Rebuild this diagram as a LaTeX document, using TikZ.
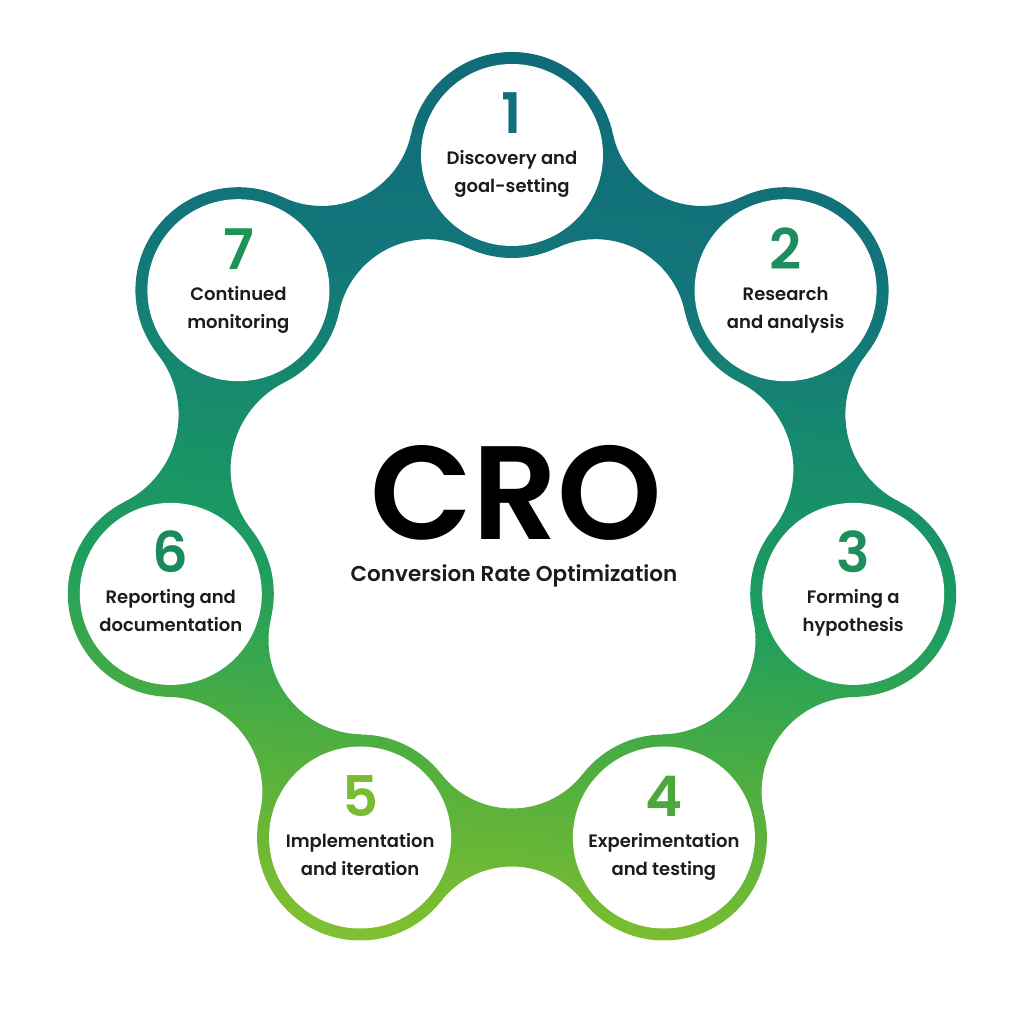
\documentclass[tikz,border=0pt]{standalone}
\usepackage{fontspec}
\setmainfont{Poppins}
\newfontfamily\medf{Poppins Medium}
\newfontfamily\semf{Poppins SemiBold}
\definecolor{g0}{HTML}{8CC63A}
\definecolor{g1}{HTML}{7CBD30}
\definecolor{g2}{HTML}{4EAE40}
\definecolor{g3}{HTML}{1E9E5E}
\definecolor{g4}{HTML}{178C6C}
\definecolor{g5}{HTML}{13777A}
\definecolor{g6}{HTML}{0E6878}
\definecolor{labeltext}{HTML}{1C1C1C}
\definecolor{d1}{HTML}{12707A}
\definecolor{d2}{HTML}{1E8E62}
\definecolor{d3}{HTML}{1E8E5C}
\definecolor{d4}{HTML}{4DA73A}
\definecolor{d5}{HTML}{78BC33}
\definecolor{d6}{HTML}{198A5B}
\definecolor{d7}{HTML}{1C9455}
\pgfdeclareverticalshading{cro}{100bp}{color(0bp)=(g0); color(25bp)=(g0); color(30bp)=(g1); color(38bp)=(g2); color(46bp)=(g3); color(54bp)=(g4); color(61bp)=(g5); color(75bp)=(g6); color(100bp)=(g6)}
\tikzset{
  lbl/.style={font=\semf\fontsize{18}{22}\selectfont, text=labeltext, anchor=base, inner sep=0pt},
  num/.style={font=\semf\fontsize{56}{60}\selectfont, anchor=base, inner sep=0pt},
  bandfill/.style={shading=cro, shading angle=-6}
}
\begin{document}
\begin{tikzpicture}[x=10pt,y=10pt]
\useasboundingbox (0,0) rectangle (102.4,102.4);
\fill[white] (0,0) rectangle (102.4,102.4);
\def\ro{10.3}\def\rw{9.1}\def\tn{2.9}
% necks between neighbouring circles
\foreach \ax/\ay/\bx/\by in {51.2/86.9/78.56/73.38, 78.56/73.38/85.32/43.01, 85.32/43.01/66.39/18.65, 66.39/18.65/36.01/18.65, 36.01/18.65/17.08/43.01, 17.08/43.01/23.84/73.38, 23.84/73.38/51.2/86.9}{
  \pgfmathsetmacro\dx{(\bx)-(\ax)}
  \pgfmathsetmacro\dy{(\by)-(\ay)}
  \pgfmathsetmacro\dd{veclen(\dx,\dy)}
  \pgfmathsetmacro\f{((\dd/2)^2+(\tn)^2-(\ro)^2)/(2*((\ro)-(\tn)))}
  \pgfmathsetmacro\h{(\f)+(\tn)}
  \pgfmathsetmacro\mx{((\ax)+(\bx))/2}
  \pgfmathsetmacro\my{((\ay)+(\by))/2}
  \pgfmathsetmacro\nx{-(\dy)/(\dd)}
  \pgfmathsetmacro\ny{(\dx)/(\dd)}
  \pgfmathsetmacro\pxa{(\mx)+(\h)*(\nx)}
  \pgfmathsetmacro\pya{(\my)+(\h)*(\ny)}
  \pgfmathsetmacro\pxb{(\mx)-(\h)*(\nx)}
  \pgfmathsetmacro\pyb{(\my)-(\h)*(\ny)}
  \pgfmathsetmacro\sA{atan2((\ay)-(\pya),(\ax)-(\pxa))}
  \pgfmathsetmacro\eA{atan2((\by)-(\pya),(\bx)-(\pxa))}
  \pgfmathsetmacro\dA{mod((\eA)-(\sA)+540,360)-180}
  \pgfmathsetmacro\sB{atan2((\by)-(\pyb),(\bx)-(\pxb))}
  \pgfmathsetmacro\eB{atan2((\ay)-(\pyb),(\ax)-(\pxb))}
  \pgfmathsetmacro\dB{mod((\eB)-(\sB)+540,360)-180}
  \pgfmathsetmacro\tax{(\pxa)+(\f)*cos(\sA)}
  \pgfmathsetmacro\tay{(\pya)+(\f)*sin(\sA)}
  \pgfmathsetmacro\tbx{(\pxb)+(\f)*cos(\sB)}
  \pgfmathsetmacro\tby{(\pyb)+(\f)*sin(\sB)}
  \begin{scope}
    \clip (\tax,\tay) arc[start angle=\sA, delta angle=\dA, radius=\f] -- (\tbx,\tby) arc[start angle=\sB, delta angle=\dB, radius=\f] -- cycle;
    \shade[bandfill] (0,0) rectangle (102.4,102.4);
  \end{scope}
}
% the seven rings
\foreach \cx/\cy in {51.2/86.9, 78.56/73.38, 85.32/43.01, 66.39/18.65, 36.01/18.65, 17.08/43.01, 23.84/73.38}{
  \begin{scope}
    \clip (\cx,\cy) circle[radius=\ro];
    \shade[bandfill] (0,0) rectangle (102.4,102.4);
  \end{scope}
  \fill[white] (\cx,\cy) circle[radius=\rw];
}
% texts in the circles
\foreach \i/\cx/\cy/\col/\la/\lb in {1/51.2/86.9/d1/Discovery and/goal-setting, 2/78.56/73.38/d2/Research/and analysis, 3/85.32/43.01/d3/Forming a/hypothesis, 4/66.39/18.65/d4/Experimentation/and testing, 5/36.01/18.65/d5/Implementation/and iteration, 6/17.08/43.01/d6/Reporting and/documentation, 7/23.84/73.38/d7/Continued/monitoring}{
  \node[num, text=\col] (n\i) at (\cx,\cy+2.1) {\i};
  \node[lbl] (la\i) at (\cx,\cy-1.0) {\la};
  \node[lbl] (lb\i) at (\cx,\cy-3.8) {\lb};
}
% centre
\node[font=\semf\fontsize{133}{133}\selectfont, anchor=base, inner sep=0pt, text depth=0pt] (cro) at (51.6,48.4) {CRO};
\node[font=\semf\fontsize{21.5}{26}\selectfont, anchor=base, inner sep=0pt, text=labeltext] (sub) at (51.4,44.2) {Conversion Rate Optimization};
\end{tikzpicture}
\end{document}
